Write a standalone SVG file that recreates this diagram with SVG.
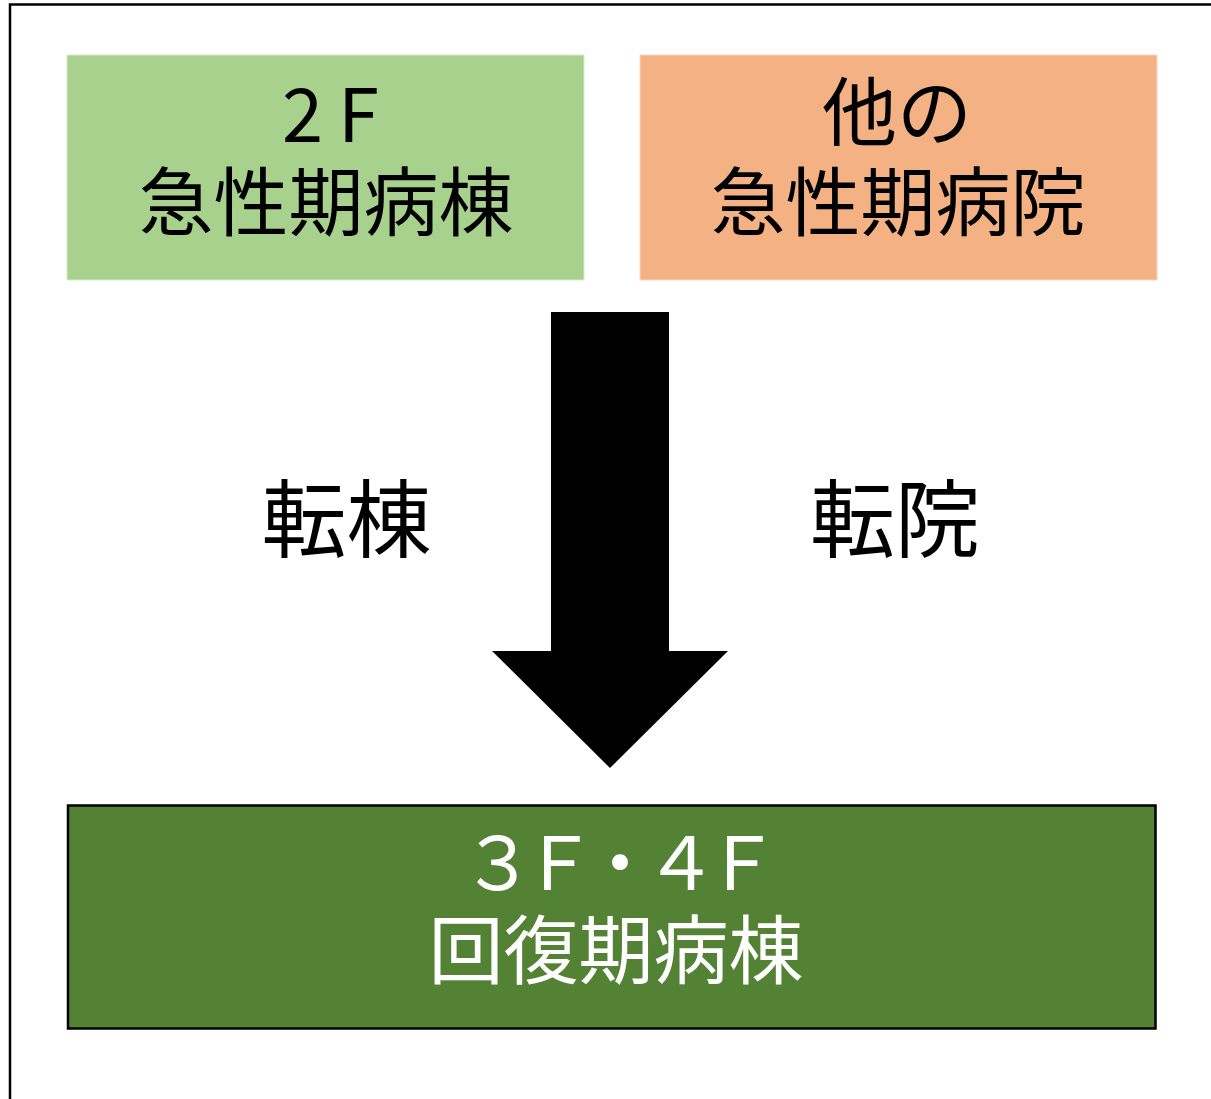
<svg xmlns="http://www.w3.org/2000/svg" width="1211" height="1099" viewBox="0 0 1211 1099">
<style>
.t{font-family:"Noto Sans CJK JP","Noto Sans",sans-serif;text-anchor:middle}
.s{font-family:"Noto Sans CJK JP","Noto Sans",sans-serif;text-anchor:start}
.dk{fill:#000}
.wh{fill:#fff}
</style>
<rect x="0" y="0" width="1211" height="1099" fill="#fff"/>
<rect x="10" y="4.5" width="1300" height="1200" fill="none" stroke="#000" stroke-width="2.5"/>
<g id="node-2f">
<rect x="67" y="55" width="517" height="225" fill="#A9D18E" stroke="#d7ebc9" stroke-width="1"/>
<text class="s dk" x="282 338" y="142" font-size="74">2F</text>
<text class="t dk" x="326" y="230" font-size="75">急性期病棟</text>
</g>
<g id="node-other">
<rect x="640" y="55" width="517" height="225" fill="#F4B183" stroke="#f9d6bd" stroke-width="1"/>
<text class="t dk" x="897" y="140" font-size="75">他の</text>
<text class="t dk" x="898" y="230" font-size="75">急性期病院</text>
</g>
<g id="connectors">
<polygon points="551,312 669,312 669,651 728,651 610,768 492,651 551,651" fill="#000"/>
<text class="t dk" x="346.5" y="551" font-size="85">転棟</text>
<text class="t dk" x="895" y="551" font-size="85">転院</text>
</g>
<g id="node-3f4f">
<rect x="68" y="805.5" width="1087.5" height="223" fill="#548235" stroke="#000" stroke-width="2.5"/>
<text class="t wh" x="620" y="890" font-size="74" textLength="318" lengthAdjust="spacing">３Ｆ・４Ｆ</text>
<text class="t wh" x="616" y="978" font-size="75">回復期病棟</text>
</g>
</svg>
